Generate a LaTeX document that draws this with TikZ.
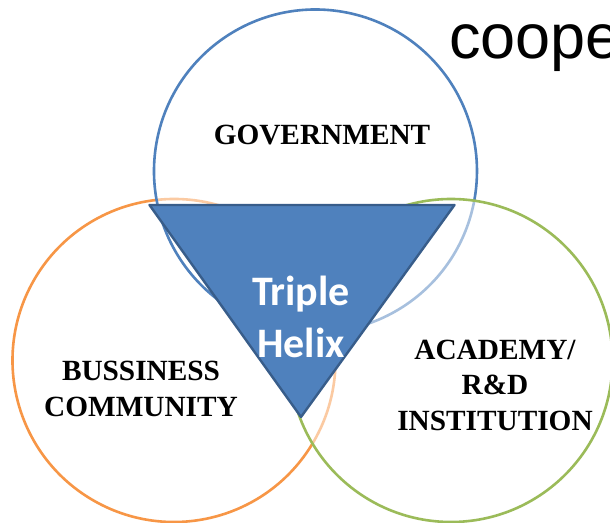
\documentclass[tikz,border=0pt]{standalone}
\usepackage{fontspec}
\setmainfont{Liberation Serif}
\newfontfamily\carlitofont{Carlito}
\newfontfamily\arialfont{Liberation Sans}
\definecolor{cblue}{HTML}{4F81BD}
\definecolor{cbluel}{HTML}{A7C0DE}
\definecolor{corange}{HTML}{F79646}
\definecolor{corangel}{HTML}{FBCAA2}
\definecolor{cgreen}{HTML}{9BBB59}
\definecolor{cedge}{HTML}{385D8A}
\tikzset{
  x=1pt,y=1pt,
  ring/.style={line width=2.6pt},
  lab/.style={font=\bfseries\fontsize{29.3}{34}\selectfont,anchor=base,inner sep=0pt,text=black},
  helix/.style={font=\carlitofont\bfseries\fontsize{42}{50}\selectfont,anchor=base,inner sep=0pt,text=white},
  tri/.style={fill=cblue,draw=cedge,line width=2.4pt,line join=round}
}
\begin{document}
\begin{tikzpicture}
\useasboundingbox (0,0) rectangle (610,522);
\clip (0,0) rectangle (610,522);
\fill[white] (0,0) rectangle (610,522);
% y up: Y = 522 - y
\coordinate (bc) at (315.5,351);
\coordinate (oc) at (174,161.5);
\coordinate (gc) at (451,161.5);
% orange
\draw[ring,corangel] ([shift={(96:161.5)}]oc) arc[start angle=96,end angle=-30.8,radius=161.5pt];
\draw[ring,corange] ([shift={(-30.8:161.5)}]oc) arc[start angle=-30.8,end angle=-264,radius=161.5pt];
% blue
\draw[ring,cbluel] ([shift={(-10.4:161.5)}]bc) arc[start angle=-10.4,end angle=-98.4,radius=161.5pt];
\draw[ring,cblue] ([shift={(-98.4:161.5)}]bc) arc[start angle=-98.4,end angle=-370.4,radius=161.5pt];
% green
\draw[ring,cgreen] (gc) circle[radius=161.5pt];
% triangle
\coordinate (ta) at (149.5,317);
\coordinate (tb) at (454.5,317);
\coordinate (tc) at (301,105);
\draw[tri] (ta) -- (tb) -- (tc) -- cycle;
\node[helix] (triple) at (301,216) {Triple};
\node[helix] (hel) at (301,164) {Helix};
\node[lab] (gov) at (322,377.5) {GOVERNMENT};
\node[lab] (bus1) at (141,141.5) {BUSSINESS};
\node[lab] (bus2) at (141,105.5) {COMMUNITY};
\node[lab] (aca1) at (495,162.5) {ACADEMY/};
\node[lab] (aca2) at (495,127) {R\&D};
\node[lab] (aca3) at (495,92) {INSTITUTION};
\node[font=\arialfont\fontsize{63}{72}\selectfont,anchor=base west,inner sep=0pt] (coop) at (449,463.5) {coope};
\end{tikzpicture}
\end{document}
